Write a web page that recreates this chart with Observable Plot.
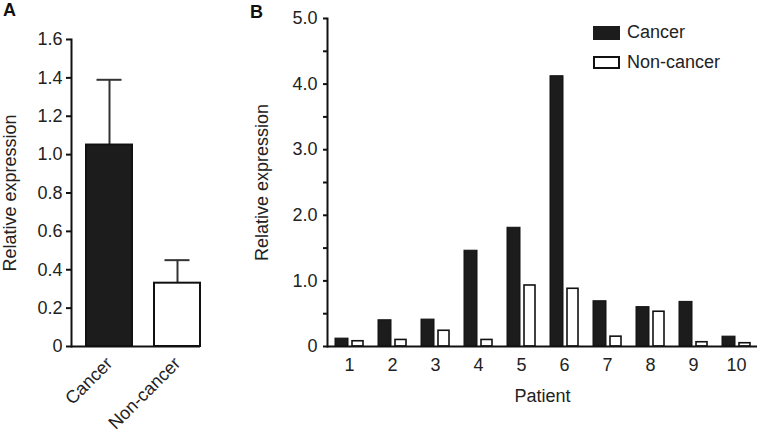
<!DOCTYPE html>
<html>
<head>
<meta charset="utf-8">
<script src="https://cdn.jsdelivr.net/npm/d3@7"></script>
<script src="https://cdn.jsdelivr.net/npm/@observablehq/plot@0.6"></script>
<style>
  html, body { margin: 0; padding: 0; background: #fff; }
  #wrap { position: relative; width: 758px; height: 437px; font-family: "Liberation Sans", Arial, sans-serif; color: #222; overflow: hidden; }
  .panel { position: absolute; top: 0; }
  .plab { position: absolute; font-weight: bold; font-size: 18px; color: #111; }
  .leg { position: absolute; font-size: 18px; display: flex; align-items: center; }
  .sw { width: 27px; height: 14px; box-sizing: border-box; margin-right: 7px; }
  #wrap svg g[aria-label*="y-axis"] line, #wrap svg g[aria-label*="y-axis"] path { stroke-width: 2px; stroke: #111; }
</style>
</head>
<body>
<div id="wrap">
  <div class="plab" style="left:3px;top:0px;">A</div>
  <div class="plab" style="left:250px;top:2px;">B</div>
  <div id="pa" class="panel" style="left:0px;"></div>
  <div id="pb" class="panel" style="left:215px;"></div>
  <div class="leg" style="left:593px;top:22px;"><div class="sw" style="background:#1c1c1c;"></div>Cancer</div>
  <div class="leg" style="left:593px;top:52px;"><div class="sw" style="background:#fff;border:2px solid #111;height:13px;"></div>Non-cancer</div>
</div>
<script>
// Panel A: mean relative expression with upper error
const groupsA = ["Cancer", "Non-cancer"];
const meansA = [1.05, 0.33];
const upperA = [1.39, 0.45];
const fillsA = ["#1c1c1c", "#ffffff"];

// Panel B: per-patient relative expression
const patients = [1, 2, 3, 4, 5, 6, 7, 8, 9, 10];
const cancerB = [0.12, 0.40, 0.41, 1.46, 1.81, 4.12, 0.69, 0.60, 0.68, 0.15];
const nonCancerB = [0.08, 0.10, 0.24, 0.10, 0.93, 0.88, 0.15, 0.53, 0.065, 0.05];

const yTicksA = [0, 0.2, 0.4, 0.6, 0.8, 1.0, 1.2, 1.4, 1.6];
const yTicksB = [0, 0.5, 1, 1.5, 2, 2.5, 3, 3.5, 4, 4.5, 5];

const dataA = groupsA.map((g, i) => ({group: g, value: meansA[i], upper: upperA[i], fill: fillsA[i]}));
const dataB = patients.map((p, i) => ({patient: p, cancer: cancerB[i], non: nonCancerB[i]}));

const baseStyle = {fontSize: "18px", fontFamily: "Liberation Sans, Arial, sans-serif", color: "#222", background: "transparent", overflow: "visible"};

const plotA = Plot.plot({
  width: 215, height: 437,
  marginLeft: 71, marginRight: 15, marginTop: 39, marginBottom: 91,
  style: baseStyle,
  x: {domain: groupsA, paddingInner: 0.33, paddingOuter: 0.1, align: 1, tickRotate: -45, tickSize: 0, tickPadding: 14, label: null},
  y: {domain: [0, 1.6], ticks: yTicksA, tickFormat: d => d === 0 ? "0" : d.toFixed(1), tickSize: 5, tickPadding: 4,
      label: "Relative expression", labelArrow: false, labelAnchor: "center", labelOffset: 68},
  marks: [
    Plot.ruleX(dataA, {x: "group", y1: "value", y2: "upper", stroke: "#333", strokeWidth: 2}),
    Plot.tickY(dataA, {x: "group", y: "upper", stroke: "#333", strokeWidth: 2, insetLeft: 10.5, insetRight: 10.5}),
    Plot.barY(dataA, {x: "group", y: "value", fill: d => d.fill, stroke: "#111", strokeWidth: 2}),
    Plot.ruleY([0], {stroke: "#111", strokeWidth: 2}),
    Plot.frame({anchor: "left", stroke: "#111", strokeWidth: 2})
  ]
});
document.getElementById("pa").appendChild(plotA);

const plotB = Plot.plot({
  width: 543, height: 437,
  marginLeft: 112, marginRight: 1, marginTop: 18, marginBottom: 91,
  style: baseStyle,
  x: {domain: patients, paddingInner: 0.35, paddingOuter: 0.175, tickSize: 0, tickPadding: 12,
      label: "Patient", labelAnchor: "center", labelOffset: 55},
  y: {domain: [0, 5], ticks: yTicksB, tickFormat: d => d === 0 ? "0" : (d % 1 === 0 ? d.toFixed(1) : ""), tickSize: 4, tickPadding: 6,
      label: "Relative expression", labelArrow: false, labelAnchor: "center", labelOffset: 72},
  marks: [
    Plot.barY(dataB, {x: "patient", y: "cancer", fill: "#1c1c1c", stroke: "#111", strokeWidth: 1, insetRight: 15}),
    Plot.barY(dataB, {x: "patient", y: "non", fill: "#fff", stroke: "#111", strokeWidth: 1.6, insetLeft: 17}),
    Plot.ruleY([0], {stroke: "#111", strokeWidth: 2}),
    Plot.frame({anchor: "left", stroke: "#111", strokeWidth: 2})
  ]
});
document.getElementById("pb").appendChild(plotB);
</script>
</body>
</html>
